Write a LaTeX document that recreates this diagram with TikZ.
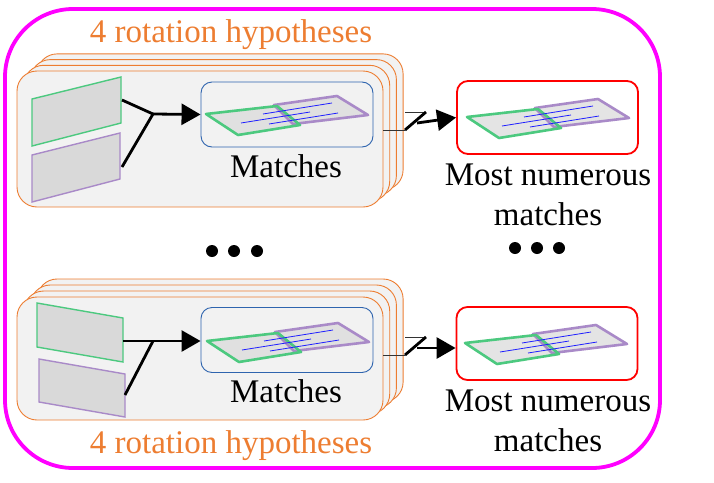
\documentclass[tikz,border=0pt]{standalone}
\usepackage{fontspec}
\setmainfont{Liberation Serif}
\newfontfamily\timesx{Liberation Serif}
\usetikzlibrary{arrows.meta}
\definecolor{orng}{HTML}{ED7D31}
\definecolor{magen}{HTML}{FF00FF}
\definecolor{redb}{HTML}{FF0000}
\definecolor{blueb}{HTML}{2E64AE}
\definecolor{grn}{HTML}{4CC97F}
\definecolor{purp}{HTML}{A98AC8}
\definecolor{layerfill}{HTML}{F2F2F2}
\definecolor{parfill}{HTML}{D9D9D9}
\definecolor{blueln}{HTML}{1F1FFF}
\tikzset{
  layer/.style={draw=orng, line width=0.9pt, fill=layerfill, rounded corners=20pt, inner sep=0pt, minimum width=366pt},
  matchbox/.style={draw=blueb, line width=0.9pt, fill=layerfill, rounded corners=11pt, inner sep=0pt, minimum width=172pt, minimum height=65pt},
  redbox/.style={draw=redb, line width=1.8pt, fill=white, rounded corners=11pt, inner sep=0pt, minimum width=181pt, minimum height=73pt},
  lbl/.style={font=\timesx\fontsize{33}{38}\selectfont, inner sep=0pt, anchor=base},
  ttl/.style={lbl, text=orng},
  inpg/.style={draw=grn, line width=1.4pt, fill=parfill},
  inpp/.style={draw=purp, line width=1.4pt, fill=parfill},
  conn/.style={line width=2.8pt},
  arr/.style={line width=2.8pt, -{Triangle[length=19pt,width=21pt]}},
  thin/.style={line width=0.8pt, draw=black!80},
  dot/.style={circle, fill=black, inner sep=0pt, minimum size=12pt},
  pairpic/.pic={
    \fill[parfill, opacity=0.7] (68,-9) -- (131,-18) -- (162,1) -- (87,10) -- cycle;
    \fill[parfill, opacity=0.7] (0,0) -- (71,-8) -- (94,11) -- (32,21) -- cycle;
    \draw[purp, line width=2.6pt, line join=round] (68,-9) -- (131,-18) -- (162,1) -- (87,10) -- cycle;
    \draw[grn, line width=2.6pt, line join=round] (0,0) -- (71,-8) -- (94,11) -- (32,21) -- cycle;
    \draw[blueln, line width=0.8pt] (57,0) -- (126,-11);
    \draw[blueln, line width=0.8pt] (35,9) -- (104,-2);
    \draw[blueln, line width=0.8pt] (63,10) -- (132,-1);
  }
}
\begin{document}
\begin{tikzpicture}[x=1pt,y=-1pt]
\useasboundingbox (0,0) rectangle (714,482);
% outer magenta frame
\draw[magen, line width=3.8pt, rounded corners=68pt] (5,9) rectangle (660,468);

% ---------- top stack ----------
\foreach \k in {3,2,1} {
  \node[layer, minimum height=136pt] at ({200+6.7*\k},{139-5.7*\k}) {};
}
\node[layer, minimum height=136pt] (s1) at (200,139) {};
\node[ttl] (t1) at (231,42) {4 rotation hypotheses};

\draw[inpg] (32,99) -- (121,77) -- (121,123) -- (32,146) -- cycle;
\draw[inpp] (32,155) -- (120,133) -- (120,179) -- (32,202) -- cycle;
\coordinate (g1) at (122,100);
\coordinate (p1) at (122,167);
\coordinate (j1) at (153,114);

\node[matchbox] (m1) at (287,114.5) {};
\pic at (206,114) {pairpic};
\node[lbl] (ml1) at (286,177) {Matches};

\draw[conn] (g1) -- (j1);
\draw[conn] (p1) -- (j1);
\draw[arr] (j1) -- (m1.west);

% connector to red box (top)
\coordinate (a1) at (383,130);
\coordinate (b1) at (405,130);
\coordinate (c1) at (426,112);
\coordinate (d1) at (405,112);
\coordinate (e1) at (417,123);
\node[redbox] (r1) at (547.5,117.5) {};
\pic at (467,117) {pairpic};
\draw[thin] (a1) -- (b1);
\draw[thin] (d1) -- (c1);
\draw[line width=2.8pt] (b1) -- (c1);
\draw[arr] (e1) -- (r1.west);
\node[lbl] (n1) at (548,185) {Most numerous};
\node[lbl] (n1b) at (548,225) {matches};

% dots
\node[dot] (dl1) at (212,251) {};
\node[dot] (dl2) at (234,251) {};
\node[dot] (dl3) at (257,251) {};
\node[dot] (dr1) at (515,248) {};
\node[dot] (dr2) at (537,248) {};
\node[dot] (dr3) at (559,248) {};

% ---------- bottom stack ----------
\foreach \k in {3,2,1} {
  \node[layer, minimum height=123pt] at ({200+6.7*\k},{358.5-6*\k}) {};
}
\node[layer, minimum height=123pt] (s2) at (200,358.5) {};
\node[ttl] (t2) at (231,453) {4 rotation hypotheses};

\draw[inpg] (37,303) -- (123,318) -- (123,362) -- (37,347) -- cycle;
\draw[inpp] (39,359) -- (125,374) -- (125,417) -- (39,402) -- cycle;
\coordinate (g2) at (123,341);
\coordinate (p2) at (125,395);
\coordinate (j2) at (153,341);

\node[matchbox] (m2) at (287,340) {};
\pic at (207,341) {pairpic};
\node[lbl] (ml2) at (286,402) {Matches};

\draw[conn] (p2) -- (j2);
\draw[arr] (g2) -- (m2.west |- g2);

% connector to red box (bottom)
\coordinate (a2) at (383,355);
\coordinate (b2) at (405,355);
\coordinate (c2) at (426,337);
\coordinate (d2) at (405,337);
\coordinate (e2) at (417,348);
\node[redbox] (r2) at (547,343.5) {};
\pic at (465,343) {pairpic};
\draw[thin] (a2) -- (b2);
\draw[thin] (d2) -- (c2);
\draw[line width=2.8pt] (b2) -- (c2);
\draw[arr] (e2) -- (r2.west |- e2);
\node[lbl] (n2) at (548,411) {Most numerous};
\node[lbl] (n2b) at (548,451) {matches};
\end{tikzpicture}
\end{document}
